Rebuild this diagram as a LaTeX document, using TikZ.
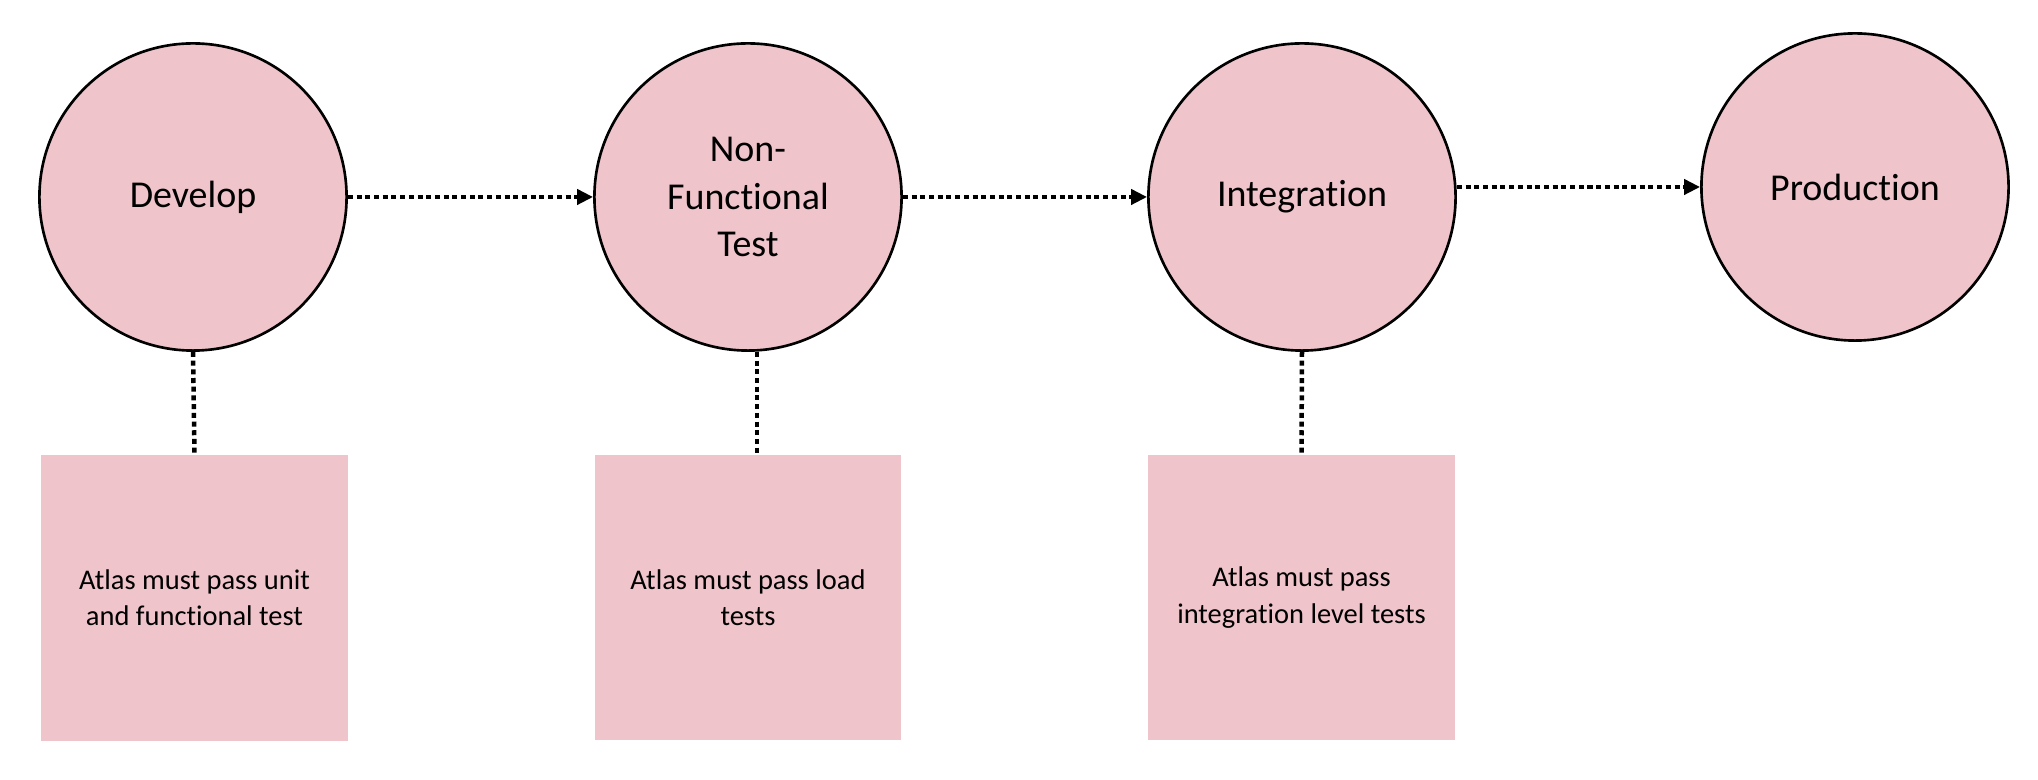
\documentclass[tikz,border=0pt]{standalone}
\usepackage{fontspec}
\setmainfont[Ligatures=NoCommon]{Carlito}
\usepackage{tikz}
\usetikzlibrary{arrows.meta}
\definecolor{stagepink}{RGB}{239,196,202}
\tikzset{px/.style=
   {x={(0.01cm,0cm)}, y={(0cm,-0.01cm)}}}
\tikzset{stage/.style=
   {circle, draw=black, line width=0.75pt, fill=stagepink, minimum size=3.07cm, inner sep=0pt,
    align=center, font=\fontsize{10.8}{13.6}\selectfont}}
\tikzset{gate/.style=
   {rectangle, fill=stagepink, minimum width=3.06cm, minimum height=2.85cm, inner sep=0pt,
    align=center, font=\fontsize{8.1}{10.3}\selectfont}}
\tikzset{dotline/.style=
   {line width=0.045cm, dash pattern=on 0.05cm off 0.037cm}}
\tikzset{flow/.style=
   {dotline, -{Triangle[length=0.16cm, width=0.15cm]}}}

\begin{document}
\begin{tikzpicture}[px]
\useasboundingbox (0,0) rectangle (2038,780);

\node[stage] (dev) at (193,197) {Develop};
\node[stage] (nft) at (748,197) {Non-\\Functional\\Test};
\node[stage] (integ) at (1302,197) {Integration};
\node[stage] (prod) at (1855,187) {Production};

\node[gate] (unit) at (194.5,598) {Atlas must pass unit\\and functional test};
\node[gate] (load) at (748,597.5) {Atlas must pass load\\tests};
\node[gate] (itest) at (1301.5,597.5) {Atlas must pass\\integration level tests};

\draw[flow] (dev.east) -- (nft.west);
\draw[flow] (nft.east) -- (integ.west);
\draw[flow] (integ.east |- prod.west) -- (prod.west);

\draw[dotline] (dev.south) -- (unit.north);
\draw[dotline] ([xshift=0.09cm]nft.south) -- ([xshift=0.09cm]load.north);
\draw[dotline] (integ.south) -- (itest.north);
\end{tikzpicture}
\end{document}
